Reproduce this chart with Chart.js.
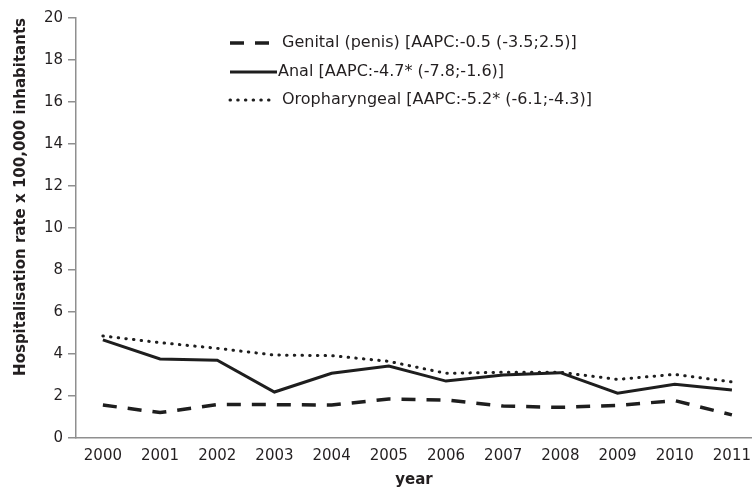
<!DOCTYPE html>
<html>
<head>
<meta charset="utf-8">
<script src="https://cdn.jsdelivr.net/npm/chart.js@4.4.1/dist/chart.umd.min.js"></script>
<style>
  html, body { margin: 0; padding: 0; background: #fff; overflow: hidden; }
  #wrap { width: 752px; height: 490px; position: relative; }
</style>
</head>
<body>
<div id="wrap"><canvas id="c"></canvas></div>
<script>
const years = [2000, 2001, 2002, 2003, 2004, 2005, 2006, 2007, 2008, 2009, 2010, 2011];
const genital = [1.57, 1.21, 1.59, 1.59, 1.57, 1.86, 1.81, 1.52, 1.46, 1.55, 1.78, 1.10];
const anal = [4.67, 3.76, 3.70, 2.19, 3.08, 3.43, 2.71, 3.00, 3.11, 2.13, 2.56, 2.29];
const oropharyngeal = [4.86, 4.54, 4.27, 3.95, 3.92, 3.65, 3.08, 3.13, 3.13, 2.79, 3.03, 2.67];
const seriesLabels = [
  'Genital (penis) [AAPC:-0.5 (-3.5;2.5)]',
  'Anal [AAPC:-4.7* (-7.8;-1.6)]',
  'Oropharyngeal [AAPC:-5.2* (-6.1;-4.3)]',
];
const yTicks = [0, 2, 4, 6, 8, 10, 12, 14, 16, 18, 20];

const INK = '#1e1e1e';
const AXIS = '#8f8f8f';
const TXT = '#231f20';
const WIDE = '"DejaVu Sans", sans-serif';

function toPoints(vals) {
  return vals.map((v, i) => ({ x: years[i], y: v }));
}

// legend sits inside the plot, stacked, like the original figure
const insideLegend = {
  id: 'inside-legend',
  afterDraw(chart) {
    const ctx = chart.ctx;
    const rows = [43, 72, 100];
    ctx.save();
    ctx.font = '16px ' + WIDE;
    ctx.fillStyle = TXT;
    ctx.textBaseline = 'middle';
    ctx.textAlign = 'left';
    chart.data.datasets.forEach((ds, i) => {
      const y = rows[i];
      ctx.strokeStyle = ds.borderColor;
      ctx.lineWidth = ds.borderWidth;
      ctx.lineCap = ds.borderCapStyle || 'butt';
      ctx.setLineDash(ds.borderDash || []);
      ctx.beginPath();
      ctx.moveTo(230, y);
      ctx.lineTo(i === 1 ? 277 : 272, y);
      ctx.stroke();
      ctx.setLineDash([]);
      ctx.fillText(ds.label, i === 1 ? 278 : 282, y);
    });
    ctx.restore();
  },
};

new Chart(document.getElementById('c'), {
  type: 'line',
  data: {
    datasets: [
      {
        label: seriesLabels[0],
        data: toPoints(genital),
        borderColor: INK,
        borderWidth: 3.5,
        borderDash: [14, 11],
        pointRadius: 0,
        tension: 0,
      },
      {
        label: seriesLabels[1],
        data: toPoints(anal),
        borderColor: INK,
        borderWidth: 3,
        pointRadius: 0,
        tension: 0,
      },
      {
        label: seriesLabels[2],
        data: toPoints(oropharyngeal),
        borderColor: INK,
        borderWidth: 3,
        borderDash: [0.5, 7.2],
        borderCapStyle: 'round',
        pointRadius: 0,
        tension: 0,
      },
    ],
  },
  options: {
    responsive: true,
    maintainAspectRatio: false,
    animation: false,
    layout: { padding: { top: 18, right: 0, left: 0, bottom: 0 } },
    scales: {
      x: {
        type: 'linear',
        min: 1999.53,
        max: 2011.35,
        afterBuildTicks: (scale) => { scale.ticks = years.map(v => ({ value: v })); },
        afterFit: (scale) => { scale.height = 52; },
        grid: { display: false },
        border: { display: true, color: AXIS, width: 1.5 },
        ticks: {
          color: TXT,
          font: { family: WIDE, size: 15 },
          padding: 1,
          maxRotation: 0,
          autoSkip: false,
          callback: (v) => String(v),
        },
        title: {
          display: true,
          text: 'year',
          color: TXT,
          font: { family: WIDE, size: 15, weight: 'bold' },
          padding: { top: 0, bottom: 1 },
        },
      },
      y: {
        min: 0,
        max: 20,
        afterBuildTicks: (scale) => { scale.ticks = yTicks.map(v => ({ value: v })); },
        afterFit: (scale) => { scale.width = 76; },
        grid: { drawOnChartArea: false, drawTicks: true, tickLength: 8, color: AXIS, lineWidth: 1.5 },
        border: { display: true, color: AXIS, width: 1.5 },
        ticks: {
          color: TXT,
          font: { family: WIDE, size: 15 },
          padding: 5,
        },
        title: {
          display: true,
          text: 'Hospitalisation rate x 100,000 inhabitants',
          align: 'end',
          color: TXT,
          font: { family: WIDE, size: 15, weight: 'bold' },
          padding: { top: 12, bottom: 0 },
        },
      },
    },
    plugins: {
      legend: { display: false },
      tooltip: { enabled: false },
    },
  },
  plugins: [insideLegend],
});
</script>
</body>
</html>
